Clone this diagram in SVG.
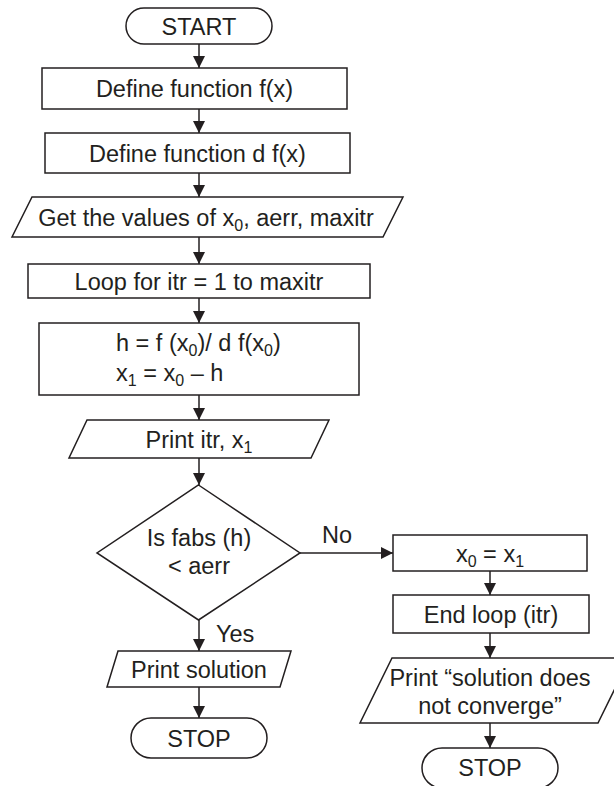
<svg xmlns="http://www.w3.org/2000/svg" width="614" height="786" viewBox="0 0 614 786">
<style>
.s{fill:#fff;stroke:#231f20;stroke-width:1.5}
.t{font-family:"Liberation Sans",Arial,sans-serif;font-size:23.5px;fill:#231f20}
.m{text-anchor:middle}
.c{stroke:#231f20;stroke-width:1.5;fill:none;marker-end:url(#ah)}
</style>
<defs>
<marker id="ah" markerUnits="userSpaceOnUse" markerWidth="12" markerHeight="12" refX="12" refY="6" orient="auto">
<path d="M0,0 L12,6 L0,12 z" fill="#231f20"/>
</marker>
</defs>
<rect width="614" height="786" fill="#fff"/>
<g id="connectors">
<line class="c" x1="199" y1="44" x2="199" y2="68"/>
<line class="c" x1="199" y1="109" x2="199" y2="133"/>
<line class="c" x1="199" y1="173" x2="199" y2="197"/>
<line class="c" x1="199" y1="237" x2="199" y2="264"/>
<line class="c" x1="199" y1="298" x2="199" y2="323"/>
<line class="c" x1="199" y1="395" x2="199" y2="420"/>
<line class="c" x1="199" y1="458" x2="199" y2="485"/>
<line class="c" x1="199" y1="620" x2="199" y2="651"/>
<line class="c" x1="199" y1="687" x2="199" y2="718"/>
<line class="c" x1="300" y1="553" x2="393" y2="553"/>
<line class="c" x1="490" y1="571" x2="490" y2="595"/>
<line class="c" x1="490" y1="633" x2="490" y2="658"/>
<line class="c" x1="490" y1="723" x2="490" y2="748"/>
<text class="t" x="322" y="543">No</text>
<text class="t" x="216" y="642">Yes</text>
</g>
<g id="start">
<rect class="s" x="126" y="8" width="146" height="36" rx="18"/>
<text class="t m" x="199" y="34.5">START</text>
</g>
<g id="define-f">
<rect class="s" x="42" y="68" width="305" height="41"/>
<text class="t m" x="194.5" y="97">Define function f(x)</text>
</g>
<g id="define-df">
<rect class="s" x="45" y="133" width="305" height="40"/>
<text class="t m" x="197.5" y="161.5">Define function d f(x)</text>
</g>
<g id="input">
<polygon class="s" points="32,197 403,197 383,237 12,237"/>
<text class="t m" x="206" y="225.5">Get the values of x<tspan font-size="16" dy="5">0</tspan><tspan dy="-5">, aerr, maxitr</tspan></text>
</g>
<g id="loop">
<rect class="s" x="28" y="264" width="342" height="34"/>
<text class="t m" x="199" y="289.5">Loop for itr = 1 to maxitr</text>
</g>
<g id="compute">
<rect class="s" x="39" y="323" width="320" height="72"/>
<text class="t" x="116" y="351">h = f (x<tspan font-size="16" dy="5">0</tspan><tspan dy="-5">)/ d f(x</tspan><tspan font-size="16" dy="5">0</tspan><tspan dy="-5">)</tspan></text>
<text class="t" x="116" y="381">x<tspan font-size="16" dy="5">1</tspan><tspan dy="-5"> = x</tspan><tspan font-size="16" dy="5">0</tspan><tspan dy="-5"> – h</tspan></text>
</g>
<g id="print-itr">
<polygon class="s" points="87,420 329,420 311,458 69,458"/>
<text class="t m" x="199" y="447.5">Print itr, x<tspan font-size="16" dy="5">1</tspan></text>
</g>
<g id="decision">
<polygon class="s" points="198.5,485 300,553 198.5,620 97,553"/>
<text class="t m" x="199" y="546">Is fabs (h)</text>
<text class="t m" x="199" y="574">&lt; aerr</text>
</g>
<g id="print-solution">
<polygon class="s" points="118,651 291,651 280,687 107,687"/>
<text class="t m" x="199" y="677.5">Print solution</text>
</g>
<g id="stop-left">
<rect class="s" x="131" y="718" width="136" height="40" rx="20"/>
<text class="t m" x="199" y="746.5">STOP</text>
</g>
<g id="update">
<rect class="s" x="393" y="535" width="194" height="36"/>
<text class="t m" x="490" y="561.5">x<tspan font-size="16" dy="5">0</tspan><tspan dy="-5"> = x</tspan><tspan font-size="16" dy="5">1</tspan></text>
</g>
<g id="end-loop">
<rect class="s" x="393" y="595" width="196" height="38"/>
<text class="t m" x="491" y="622.5">End loop (itr)</text>
</g>
<g id="print-fail">
<polygon class="s" points="392,658 630,658 598,723 360,723"/>
<text class="t m" x="490" y="686">Print “solution does</text>
<text class="t m" x="490" y="714">not converge”</text>
</g>
<g id="stop-right">
<rect class="s" x="422" y="748" width="136" height="40" rx="20"/>
<text class="t m" x="490" y="776">STOP</text>
</g>
</svg>
